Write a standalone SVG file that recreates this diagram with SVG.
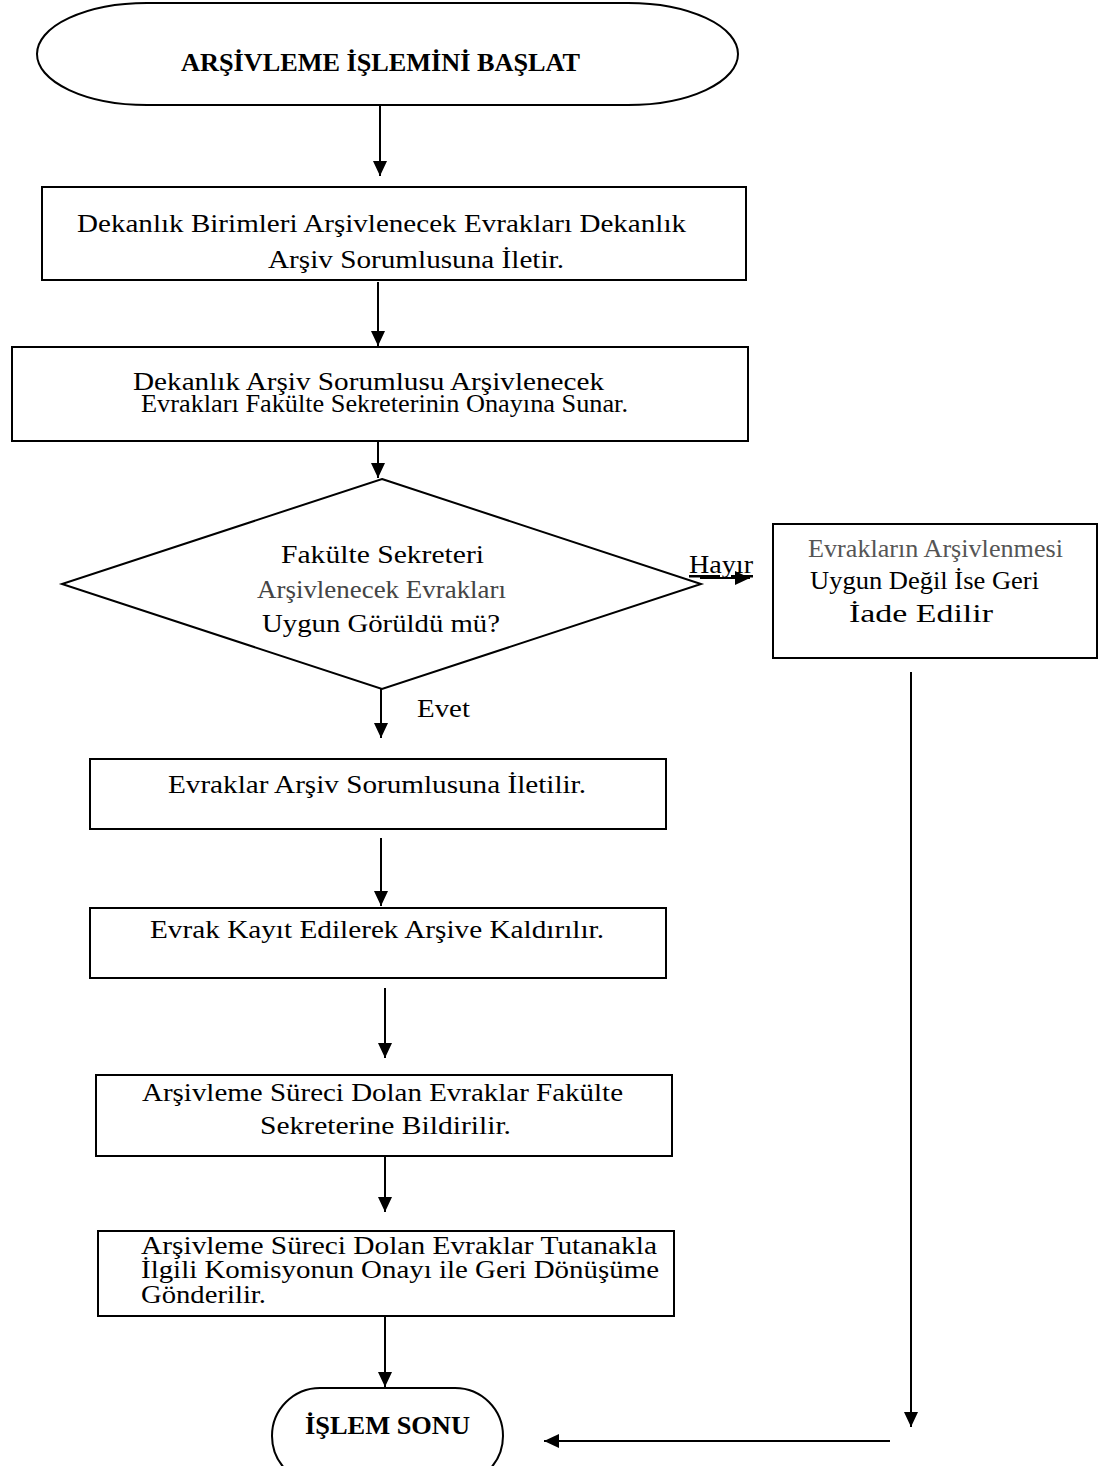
<svg xmlns="http://www.w3.org/2000/svg" width="1110" height="1466" viewBox="0 0 1110 1466">
  <defs>
    <marker id="arrow" markerWidth="15" markerHeight="14" refX="15" refY="7" orient="auto" markerUnits="userSpaceOnUse" viewBox="0 0 15 14">
      <path d="M0,0 L15,7 L0,14 Z" fill="#000"/>
    </marker>
    <style>
      .shape { fill: #fff; stroke: #000; stroke-width: 2; }
      .conn { stroke: #000; stroke-width: 2; fill: none; marker-end: url(#arrow); }
      .t { font-family: "Liberation Serif", "Times New Roman", serif; font-size: 25px; fill: #000; }
      .b { font-weight: bold; }
      .gray { fill: #444; }
      .light { fill: #555; }
    </style>
  </defs>
  <rect width="1110" height="1466" fill="#fff"/>

  <!-- connectors -->
  <g id="connectors">
    <line class="conn" x1="380" y1="106" x2="380" y2="176"/>
    <line class="conn" x1="378" y1="282" x2="378" y2="346"/>
    <line class="conn" x1="378" y1="441" x2="378" y2="478"/>
    <line class="conn" x1="381" y1="689" x2="381" y2="738"/>
    <line class="conn" x1="381" y1="838" x2="381" y2="906"/>
    <line class="conn" x1="385" y1="988" x2="385" y2="1058"/>
    <line class="conn" x1="385" y1="1156" x2="385" y2="1212"/>
    <line class="conn" x1="385" y1="1316" x2="385" y2="1387"/>
    <line class="conn" x1="700" y1="578" x2="750" y2="578" stroke="#555"/>
    <line class="conn" x1="911" y1="672" x2="911" y2="1427"/>
    <line class="conn" x1="890" y1="1441" x2="544" y2="1441"/>
  </g>

  <!-- start terminator -->
  <g id="start">
    <rect class="shape" x="37" y="3" width="701" height="102" rx="110" ry="51"/>
    <text class="t b" x="181" y="71" font-size="30" textLength="399" lengthAdjust="spacingAndGlyphs">ARŞİVLEME İŞLEMİNİ BAŞLAT</text>
  </g>

  <g id="step1">
    <rect class="shape" x="42" y="187" width="704" height="93"/>
    <text class="t" x="77" y="232" font-size="33" textLength="609" lengthAdjust="spacingAndGlyphs">Dekanlık Birimleri Arşivlenecek Evrakları Dekanlık</text>
    <text class="t" x="268" y="268" font-size="33" textLength="296" lengthAdjust="spacingAndGlyphs">Arşiv Sorumlusuna İletir.</text>
  </g>

  <g id="step2">
    <rect class="shape" x="12" y="347" width="736" height="94"/>
    <text class="t" x="133" y="390" font-size="29" textLength="471" lengthAdjust="spacingAndGlyphs">Dekanlık Arşiv Sorumlusu Arşivlenecek</text>
    <text class="t" x="141" y="412" font-size="28" textLength="487" lengthAdjust="spacingAndGlyphs">Evrakları Fakülte Sekreterinin Onayına Sunar.</text>
  </g>

  <g id="decision">
    <polygon class="shape" points="382,479 701,584 382,689 62,584"/>
    <text class="t" x="281" y="563" font-size="30" textLength="203" lengthAdjust="spacingAndGlyphs">Fakülte Sekreteri</text>
    <text class="t gray" x="257" y="598" font-size="30" textLength="249" lengthAdjust="spacingAndGlyphs">Arşivlenecek Evrakları</text>
    <text class="t" x="262" y="632" font-size="30" textLength="238" lengthAdjust="spacingAndGlyphs">Uygun Görüldü mü?</text>
  </g>

  <g id="label-no">
    <text class="t" x="689" y="573" font-size="28" textLength="64" lengthAdjust="spacingAndGlyphs" text-decoration="underline">Hayır</text>
  </g>
  <g id="label-yes">
    <text class="t" x="417" y="717" font-size="29" textLength="53" lengthAdjust="spacingAndGlyphs">Evet</text>
  </g>

  <g id="reject">
    <rect class="shape" x="773" y="524" width="324" height="134"/>
    <text class="t light" x="808" y="557" font-size="22" textLength="255" lengthAdjust="spacingAndGlyphs">Evrakların Arşivlenmesi</text>
    <text class="t" x="810" y="589" font-size="26" textLength="229" lengthAdjust="spacingAndGlyphs">Uygun Değil İse Geri</text>
    <text class="t" x="849" y="622" font-size="27" textLength="144" lengthAdjust="spacingAndGlyphs">İade Edilir</text>
  </g>

  <g id="step3">
    <rect class="shape" x="90" y="759" width="576" height="70"/>
    <text class="t" x="168" y="793" font-size="29" textLength="418" lengthAdjust="spacingAndGlyphs">Evraklar Arşiv Sorumlusuna İletilir.</text>
  </g>

  <g id="step4">
    <rect class="shape" x="90" y="908" width="576" height="70"/>
    <text class="t" x="150" y="938" font-size="29" textLength="454" lengthAdjust="spacingAndGlyphs">Evrak Kayıt Edilerek Arşive Kaldırılır.</text>
  </g>

  <g id="step5">
    <rect class="shape" x="96" y="1075" width="576" height="81"/>
    <text class="t" x="142" y="1101" font-size="29" textLength="481" lengthAdjust="spacingAndGlyphs">Arşivleme Süreci Dolan Evraklar Fakülte</text>
    <text class="t" x="260" y="1134" font-size="29" textLength="251" lengthAdjust="spacingAndGlyphs">Sekreterine Bildirilir.</text>
  </g>

  <g id="step6">
    <rect class="shape" x="98" y="1231" width="576" height="85"/>
    <text class="t" x="141" y="1254" font-size="27" textLength="516" lengthAdjust="spacingAndGlyphs">Arşivleme Süreci Dolan Evraklar Tutanakla</text>
    <text class="t" x="141" y="1278" font-size="27" textLength="518" lengthAdjust="spacingAndGlyphs">İlgili Komisyonun Onayı ile Geri Dönüşüme</text>
    <text class="t" x="141" y="1303" font-size="27" textLength="125" lengthAdjust="spacingAndGlyphs">Gönderilir.</text>
  </g>

  <!-- end terminator -->
  <g id="end">
    <rect class="shape" x="272" y="1388" width="231" height="96" rx="48" ry="48"/>
    <text class="t b" x="305" y="1434" font-size="29" textLength="165" lengthAdjust="spacingAndGlyphs">İŞLEM SONU</text>
  </g>
</svg>
